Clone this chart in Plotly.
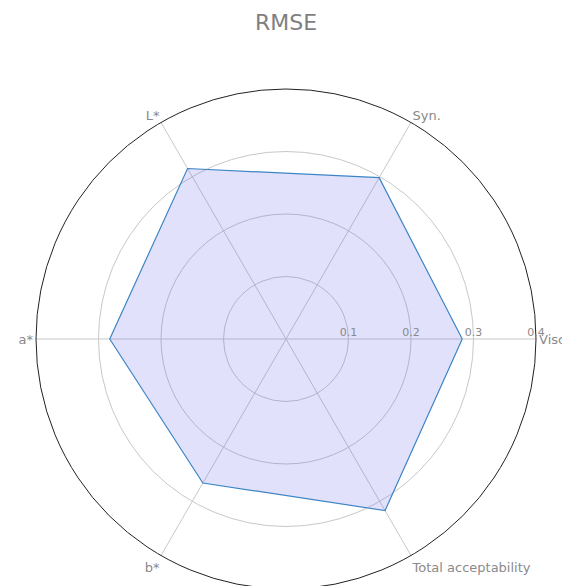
import plotly.graph_objects as go

categories = ["Visc.", "Syn.", "L*", "a*", "b*", "Total acceptability"]
rmse_values = [0.282, 0.298, 0.315, 0.282, 0.266, 0.317]
radial_ticks = [0.1, 0.2, 0.3, 0.4]
radial_ticklabels = ["0.1", "0.2", "0.3", "0.4"]

theta_closed = categories + categories[:1]
r_closed = rmse_values + rmse_values[:1]

fig = go.Figure()
fig.add_trace(go.Scatterpolar(
    r=r_closed,
    theta=theta_closed,
    mode="lines",
    fill="toself",
    fillcolor="rgba(90,90,235,0.18)",
    line=dict(color="#3d85c6", width=1.2),
    showlegend=False,
    hoverinfo="skip",
))

W, H = 570, 586
OFF = 8  # page body margin compensation
cx, cy, R = 286 - OFF, 339 - OFF, 250

fig.update_layout(
    width=W, height=H,
    margin=dict(l=0, r=0, t=0, b=0),
    paper_bgcolor="white",
    font=dict(family="DejaVu Sans", color="#8a8a8a"),
    title=dict(text="RMSE", x=cx / W, xanchor="center", y=1 - (22 - OFF) / H, yanchor="middle",
               font=dict(size=22, color="#7f7f7f", family="DejaVu Sans")),
    polar=dict(
        domain=dict(x=[(cx - R) / W, (cx + R) / W], y=[1 - (cy + R) / H, 1 - (cy - R) / H]),
        bgcolor="white",
        angularaxis=dict(
            direction="counterclockwise",
            rotation=0,
            showline=True,
            linecolor="#222222",
            linewidth=1,
            gridcolor="#c8c8c8",
            gridwidth=1,
            ticks="",
            tickfont=dict(size=13, color="#8a8a8a", family="DejaVu Sans"),
        ),
        radialaxis=dict(
            range=[0, 0.4],
            angle=0,
            tickangle=0,
            side="counterclockwise",
            tickvals=radial_ticks,
            ticktext=radial_ticklabels,
            showline=False,
            ticks="",
            gridcolor="#c8c8c8",
            gridwidth=1,
            tickfont=dict(size=11, color="#8a8a8a", family="DejaVu Sans"),
        ),
    ),
    annotations=[dict(text="(c)", x=(4 - OFF) / W, y=1 + (OFF + 10) / H, xref="paper", yref="paper",
                      xanchor="left", yanchor="middle", showarrow=False,
                      font=dict(size=16, color="#222222"))],
)

fig.write_html("out.html")
